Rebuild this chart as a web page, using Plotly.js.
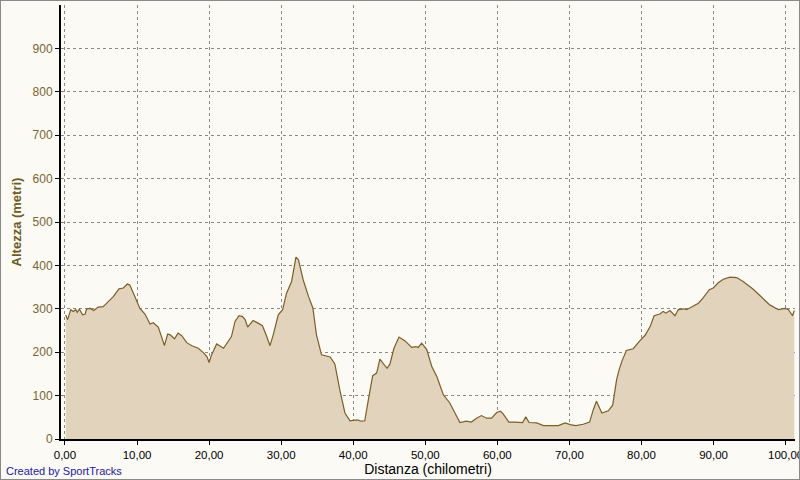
<!DOCTYPE html>
<html><head><meta charset="utf-8">
<script src="https://cdn.plot.ly/plotly-3.0.1.min.js"></script>
<style>
html,body{margin:0;padding:0;background:#fbfaf5;}
#wrap{width:800px;height:480px;box-sizing:border-box;border:1px solid #8a8a8a;background:#fbfaf5;overflow:hidden;}
#chart{width:798px;height:478px;}
</style></head><body>
<div id="wrap"><div id="chart"></div></div>
<script>
const distanceKm = [0.1,0.37,0.8,1.15,1.5,1.7,2.0,2.45,2.8,3.0,3.5,4.0,4.6,5.3,5.8,6.7,7.5,8.1,8.65,9.0,9.5,10.4,11.1,11.8,12.25,12.95,13.4,13.8,14.25,14.6,15.2,15.7,16.2,16.9,17.6,18.5,19.2,19.7,20.0,20.35,20.7,21.05,22.0,22.65,23.1,23.6,24.15,24.65,25.0,25.35,26.1,26.8,27.4,28.0,28.45,28.9,29.6,30.2,30.75,31.45,32.05,32.4,33.05,33.8,34.4,34.9,35.6,36.8,37.45,38.15,38.85,39.55,40.55,41.15,41.6,42.1,42.7,43.25,43.7,44.2,44.7,45.1,45.65,46.35,47.2,48.1,48.7,49.0,49.5,50.2,50.9,51.6,52.5,53.4,54.1,54.8,55.7,56.4,57.1,57.8,58.5,59.2,59.9,60.45,60.8,61.6,62.45,63.5,63.95,64.4,65.45,66.4,68.45,69.4,70.1,70.9,71.9,72.8,73.3,73.75,74.5,75.4,76.0,76.55,76.9,77.3,77.9,78.85,79.7,80.5,81.2,81.75,82.55,83.0,83.4,83.95,84.65,85.1,85.9,86.25,86.95,87.9,88.55,89.4,89.95,90.65,91.35,92.3,93.2,94.1,95.5,96.7,97.8,99.0,99.9,100.4,100.95,101.2];
const altitudeM = [286,275,298,294,298,292,299,286,288,300,301,296,304,305,313,328,346,348,357,355,336,301,288,265,268,258,236,215,242,240,231,244,238,222,215,209,199,190,176,194,206,219,209,225,236,271,284,282,275,258,273,267,261,236,215,240,286,298,336,363,419,413,367,328,302,240,194,189,173,112,60,42,44,41,42,90,146,152,184,173,163,173,209,235,226,211,213,211,221,206,167,144,102,83,60,38,41,39,48,54,48,48,61,64,58,39,39,38,51,38,37,31,31,37,33,31,34,39,67,87,60,65,78,137,160,180,204,208,225,239,259,284,288,294,290,296,284,298,300,298,304,313,325,344,348,360,368,373,372,363,345,327,309,298,301,298,284,296];
const xTickVals = [0,10,20,30,40,50,60,70,80,90,100];
const xTickText = ["0,00","10,00","20,00","30,00","40,00","50,00","60,00","70,00","80,00","90,00","100,00"];
const yTickVals = [0,100,200,300,400,500,600,700,800,900];

const trace = {
  x: distanceKm, y: altitudeM, type: 'scatter', mode: 'lines',
  fill: 'tozeroy', fillcolor: '#e2d4bc',
  line: {color: '#7d5f26', width: 1.2},
  hoverinfo: 'skip'
};
const layout = {
  width: 798, height: 478,
  paper_bgcolor: '#fbfaf5', plot_bgcolor: '#fbfaf5',
  margin: {l: 60, r: 4, t: 4, b: 40},
  font: {family: 'Liberation Sans, Arial, sans-serif', size: 12, color: '#000'},
  showlegend: false,
  xaxis: {
    range: [-0.55, 101.3], tickmode: 'array', tickvals: xTickVals, ticktext: xTickText,
    ticklabeloverflow: 'allow',
    showline: true, linecolor: '#000', linewidth: 2, ticks: 'outside', ticklen: 4, tickcolor: '#000',
    showgrid: true, gridcolor: '#8a8a8a', griddash: 'dot', gridwidth: 1, zeroline: false,
    tickfont: {size: 11.5, color: '#000'},
    title: {text: 'Distanza (chilometri)', font: {size: 14, color: '#000'}, standoff: 2}
  },
  yaxis: {
    range: [0, 1000], tickmode: 'array', tickvals: yTickVals,
    showline: true, linecolor: '#000', linewidth: 2, ticks: 'outside', ticklen: 4, tickcolor: '#000',
    showgrid: true, gridcolor: '#8a8a8a', griddash: 'dot', gridwidth: 1, zeroline: false,
    tickfont: {size: 12, color: '#7a6530'},
    title: {text: '<b>Altezza (metri)</b>', font: {size: 13, color: '#6e5a22'}, standoff: 8}
  },
  annotations: [{
    text: 'Created by SportTracks', xref: 'paper', yref: 'paper',
    x: -0.0777, y: -0.0737, xanchor: 'left', yanchor: 'middle', showarrow: false,
    font: {size: 11, color: '#2020a0'}
  }]
};
Plotly.newPlot('chart', [trace], layout, {displayModeBar: false, staticPlot: true});
</script></body></html>
